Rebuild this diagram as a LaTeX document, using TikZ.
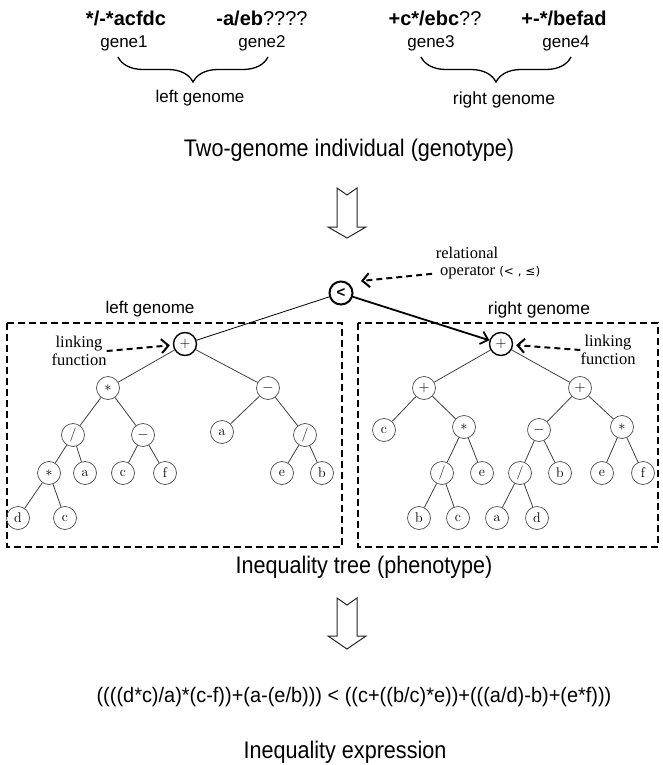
\documentclass[tikz,border=0pt]{standalone}
\usepackage{fontspec}
\usetikzlibrary{arrows.meta,decorations.pathreplacing}
\newfontfamily\sfN[FakeStretch=0.9]{Liberation Sans}
\newfontfamily\sfE[FakeStretch=0.95]{Liberation Sans}
\newfontfamily\sfA{Liberation Sans}
\newfontfamily\serA{Liberation Serif}
\newfontfamily\djv{DejaVu Sans}
\tikzset{
  tn/.style={circle, draw=black!70, line width=0.7pt, minimum size=23pt, inner sep=0pt, font=\rmfamily\fontsize{14}{14}\selectfont},
  rootn/.style={tn, draw=black, line width=1.4pt},
  opn/.style={circle, draw=black, line width=2pt, minimum size=23pt, inner sep=0pt, font=\sfA\bfseries\fontsize{15}{15}\selectfont},
  edge/.style={draw=black!75, line width=0.8pt},
  genetxt/.style={font=\sfA\fontsize{20}{20}\selectfont, inner sep=0pt},
  genelbl/.style={font=\sfA\fontsize{17}{17}\selectfont, inner sep=0pt},
  title/.style={font=\sfN\fontsize{24}{24}\selectfont, inner sep=0pt},
  note/.style={font=\serA\fontsize{16.5}{17}\selectfont, inner sep=0pt, align=center},
  bracestyle/.style={draw, line width=1.3pt, decorate, decoration={brace, mirror, amplitude=25pt}},
  boxstyle/.style={draw, line width=1.8pt, dash pattern=on 7pt off 4pt},
  dasharrow/.style={draw, line width=2pt, dash pattern=on 6pt off 4pt, -{Straight Barb[length=7pt,width=14pt,line width=2pt]}},
  hollow/.style={draw=black!85, line width=1pt, fill=white},
}
\begin{document}
\begin{tikzpicture}[x=1pt,y=-1pt]
\path[use as bounding box, fill=white] (0,0) rectangle (663,765);

% ---- genotype ----
\node[genetxt] (g1s) at (126,18) {\bfseries */-*acfdc};
\node[genetxt] (g2s) at (262,18) {{\bfseries -a/eb}????};
\node[genetxt] (g3s) at (435,18) {{\bfseries +c*/ebc}??};
\node[genetxt] (g4s) at (564,18) {\bfseries +-*/befad};
\node[genelbl] (g1) at (124,43) {gene1};
\node[genelbl] (g2) at (262,43) {gene2};
\node[genelbl] (g3) at (431,43) {gene3};
\node[genelbl] (g4) at (566,43) {gene4};
\coordinate (bl1) at (118,57);
\coordinate (bl2) at (268,57);
\coordinate (br1) at (421,57);
\coordinate (br2) at (571,57);
\draw[bracestyle] (bl1) -- (bl2);
\draw[bracestyle] (br1) -- (br2);
\node[genelbl] (lg) at (200,98) {left genome};
\node[genelbl, font=\sfA\fontsize{17.5}{17.5}\selectfont] (rg) at (504,100) {right genome};
\node[title] (t1) at (349,150) {Two-genome individual (genotype)};

% hollow arrow 1
\draw[hollow] (337,188) -- (347,195) -- (357,188) -- (357,227) -- (366,227) -- (347,238) -- (328,227) -- (337,227) -- cycle;

% ---- phenotype ----
\draw[boxstyle] (7,323) rectangle (342,547);
\draw[boxstyle] (358,323) rectangle (658,547);
\node[genelbl] (lgt) at (150,309) {left genome};
\node[genelbl, font=\sfA\fontsize{17.5}{17.5}\selectfont] (rgt) at (539,310) {right genome};

\node[opn] (op) at (341,293) {<};
\node[note] (rel1) at (467,253) {relational};
\node[note, anchor=west] (rel2) at (440,273) {operator {\djv\fontsize{12}{12}\selectfont (<~,~≤)}};
\coordinate (relTip) at (361,281);
\draw[dasharrow, shorten <=8pt] (rel2.west) -- (relTip);

% left tree
\node[rootn] (L0) at (185,344) {$+$};
\node[tn] (L1) at (108,388) {$\ast$};
\node[tn] (L2) at (268,388) {$-$};
\node[tn] (L3) at (73,435) {/};
\node[tn] (L4) at (143,435) {$-$};
\node[tn] (L5) at (222,432) {a};
\node[tn] (L6) at (305,435) {/};
\node[tn] (L7) at (49,473) {$\ast$};
\node[tn] (L8) at (85,473) {a};
\node[tn] (L9) at (123,473) {c};
\node[tn] (L10) at (165,473) {f};
\node[tn] (L11) at (282,473) {e};
\node[tn] (L12) at (322,473) {b};
\node[tn] (L13) at (18,518) {d};
\node[tn] (L14) at (65,518) {c};
\foreach \a/\b in {L0/L1,L0/L2,L1/L3,L1/L4,L2/L5,L2/L6,L3/L7,L3/L8,L4/L9,L4/L10,L6/L11,L6/L12,L7/L13,L7/L14}
  \draw[edge] (\a) -- (\b);

% right tree
\node[rootn] (R0) at (501,344) {$+$};
\node[tn] (R1) at (424,388) {$+$};
\node[tn] (R2) at (580,388) {$+$};
\node[tn] (R3) at (384,430) {c};
\node[tn] (R4) at (464,427) {$\ast$};
\node[tn] (R5) at (539,430) {$-$};
\node[tn] (R6) at (622,427) {$\ast$};
\node[tn] (R7) at (442,473) {/};
\node[tn] (R8) at (482,473) {e};
\node[tn] (R9) at (520,473) {/};
\node[tn] (R10) at (560,473) {b};
\node[tn] (R11) at (602,473) {e};
\node[tn] (R12) at (643,473) {f};
\node[tn] (R13) at (419,518) {b};
\node[tn] (R14) at (458,518) {c};
\node[tn] (R15) at (497,518) {a};
\node[tn] (R16) at (537,518) {d};
\foreach \a/\b in {R0/R1,R0/R2,R1/R3,R1/R4,R2/R5,R2/R6,R4/R7,R4/R8,R5/R9,R5/R10,R6/R11,R6/R12,R7/R13,R7/R14,R9/R15,R9/R16}
  \draw[edge] (\a) -- (\b);

% links from relational operator
\draw[line width=0.8pt] (op) -- (L0);
\draw[line width=1.8pt, -{Straight Barb[length=7pt,width=13pt,line width=1.8pt]}] (op) -- (R0);

% linking function labels
\node[note] (linkL) at (79,351) {linking\\[1pt]function};
\draw[dasharrow, shorten >=3pt] (linkL.east) -- (L0);
\node[note] (linkR) at (608,350) {linking\\[1pt]function};
\draw[dasharrow, shorten >=3pt] (linkR.west) -- (R0);

\node[title] (t2) at (364,567) {Inequality tree (phenotype)};

% hollow arrow 2
\draw[hollow] (337,598) -- (347,605) -- (357,598) -- (357,636) -- (366,636) -- (347,649) -- (328,636) -- (337,636) -- cycle;

% ---- expression ----
\node[inner sep=0pt, font=\sfE\fontsize{21}{21}\selectfont] (expr) at (354,697) {((((d*c)/a)*(c-f))+(a-(e/b))) < ((c+((b/c)*e))+(((a/d)-b)+(e*f)))};
\node[title] (t3) at (345,752) {Inequality expression};
\end{tikzpicture}
\end{document}
